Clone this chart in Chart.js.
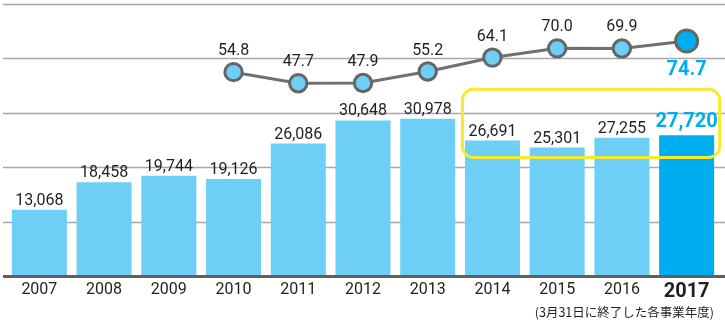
<!DOCTYPE html>
<html>
<head>
<meta charset="utf-8">
<script src="https://cdn.jsdelivr.net/npm/chart.js@4.4.0/dist/chart.umd.min.js"></script>
<style>
  html, body { margin: 0; padding: 0; background: #fff; }
  #wrap { position: relative; width: 725px; height: 325px; }
</style>
</head>
<body>
<div id="wrap"><canvas id="salesChart" width="725" height="325"></canvas></div>
<script>
var years = ['2007', '2008', '2009', '2010', '2011', '2012', '2013', '2014', '2015', '2016', '2017'];
var sales = [13068, 18458, 19744, 19126, 26086, 30648, 30978, 26691, 25301, 27255, 27720];
var ratio = [null, null, null, 54.8, 47.7, 47.9, 55.2, 64.1, 70.0, 69.9, 74.7];
var note = '(3月31日に終了した各事業年度)';

var lightBlue = '#6dcff6';
var strongBlue = '#00aeef';
var textColor = '#231f20';
var font = 'Roboto, "Liberation Sans", sans-serif';
var last = years.length - 1;

function fmt(n) {
  return n.toLocaleString('en-US');
}

// grid lines across the full width + heavy baseline
var gridPlugin = {
  id: 'grid',
  beforeDatasetsDraw: function(chart) {
    var c = chart.ctx, y = chart.scales.y, w = chart.width;
    c.save();
    y.ticks.forEach(function(t, i) {
      var py = Math.round(y.getPixelForValue(t.value)) + 0.5;
      if (i === 0) return;
      c.strokeStyle = '#a8a8a8';
      c.lineWidth = 1.5;
      c.beginPath(); c.moveTo(3, py); c.lineTo(w, py); c.stroke();
    });
    c.restore();
  },
  afterDatasetsDraw: function(chart) {
    var c = chart.ctx, y = chart.scales.y;
    var py = y.getPixelForValue(0) + 0.5;
    c.save();
    c.strokeStyle = '#606060';
    c.lineWidth = 3;
    c.beginPath(); c.moveTo(3, py); c.lineTo(chart.width, py); c.stroke();
    c.restore();
  }
};

// numbers over bars and points, highlight frame, footnote
var labelPlugin = {
  id: 'labels',
  afterDraw: function(chart) {
    var c = chart.ctx;
    var bars = chart.getDatasetMeta(1).data;
    var pts = chart.getDatasetMeta(0).data;
    c.save();
    c.textAlign = 'center';
    c.textBaseline = 'alphabetic';
    bars.forEach(function(b, i) {
      if (i === last) {
        c.font = 'bold 20px ' + font;
        c.fillStyle = strongBlue;
        c.fillText(fmt(sales[i]), b.x, b.y - 8);
      } else {
        c.font = '16px ' + font;
        c.fillStyle = textColor;
        c.fillText(fmt(sales[i]), b.x, b.y - 5);
      }
    });
    pts.forEach(function(p, i) {
      if (ratio[i] === null) return;
      if (i === last) {
        c.font = 'bold 20px ' + font;
        c.fillStyle = strongBlue;
        c.fillText(ratio[i].toFixed(1), p.x, p.y + 34);
      } else {
        c.font = '16px ' + font;
        c.fillStyle = textColor;
        c.fillText(ratio[i].toFixed(1), p.x, p.y - 17);
      }
    });

    // yellow frame around 2014-2017 sales
    var x = chart.scales.x, y = chart.scales.y;
    var left = x.getPixelForValue(7) - 30;
    var right = x.getPixelForValue(last) + 33;
    var top = y.getPixelForValue(36800);
    var bottom = y.getPixelForValue(23350);
    c.strokeStyle = '#f7ea2e';
    c.lineWidth = 3;
    c.beginPath();
    c.roundRect(left, top, right - left, bottom - top, 11);
    c.stroke();

    c.font = '12.5px "Noto Sans CJK JP", sans-serif';
    c.fillStyle = textColor;
    c.textAlign = 'right';
    c.textBaseline = 'middle';
    c.fillText(note, 714, 312);
    c.restore();
  }
};

var config = {
  type: 'bar',
  data: {
    labels: years,
    datasets: [{
      type: 'line',
      data: ratio,
      yAxisID: 'y2',
      borderColor: '#707070',
      borderWidth: 3,
      pointBackgroundColor: years.map(function(_, i) { return i === last ? strongBlue : lightBlue; }),
      pointBorderColor: '#666666',
      pointBorderWidth: 3,
      pointRadius: years.map(function(_, i) { return i === last ? 11 : 8.7; }),
      spanGaps: false,
      order: 0
    }, {
      data: sales,
      yAxisID: 'y',
      backgroundColor: years.map(function(_, i) { return i === last ? strongBlue : lightBlue; }),
      categoryPercentage: 1,
      barPercentage: 0.85,
      order: 1
    }]
  },
  options: {
    responsive: false,
    animation: false,
    layout: { autoPadding: false, padding: { left: 7, right: 6, top: 4, bottom: 0 } },
    plugins: { legend: { display: false }, tooltip: { enabled: false } },
    scales: {
      x: {
        grid: { display: false, drawTicks: false },
        border: { display: false },
        afterFit: function(scale) { scale.height = 49; },
        ticks: {
          padding: 4,
          color: textColor,
          font: function(ctx) {
            return ctx.index === last ? { family: font, size: 20, weight: 'bold' } : { family: font, size: 16 };
          }
        }
      },
      y: {
        display: false,
        min: 0,
        max: 53600,
        ticks: { stepSize: 10720 }
      },
      y2: {
        display: false,
        min: -75.3,
        max: 98.3
      }
    }
  },
  plugins: [gridPlugin, labelPlugin]
};

var chart = new Chart(document.getElementById('salesChart'), config);
</script>
</body>
</html>
